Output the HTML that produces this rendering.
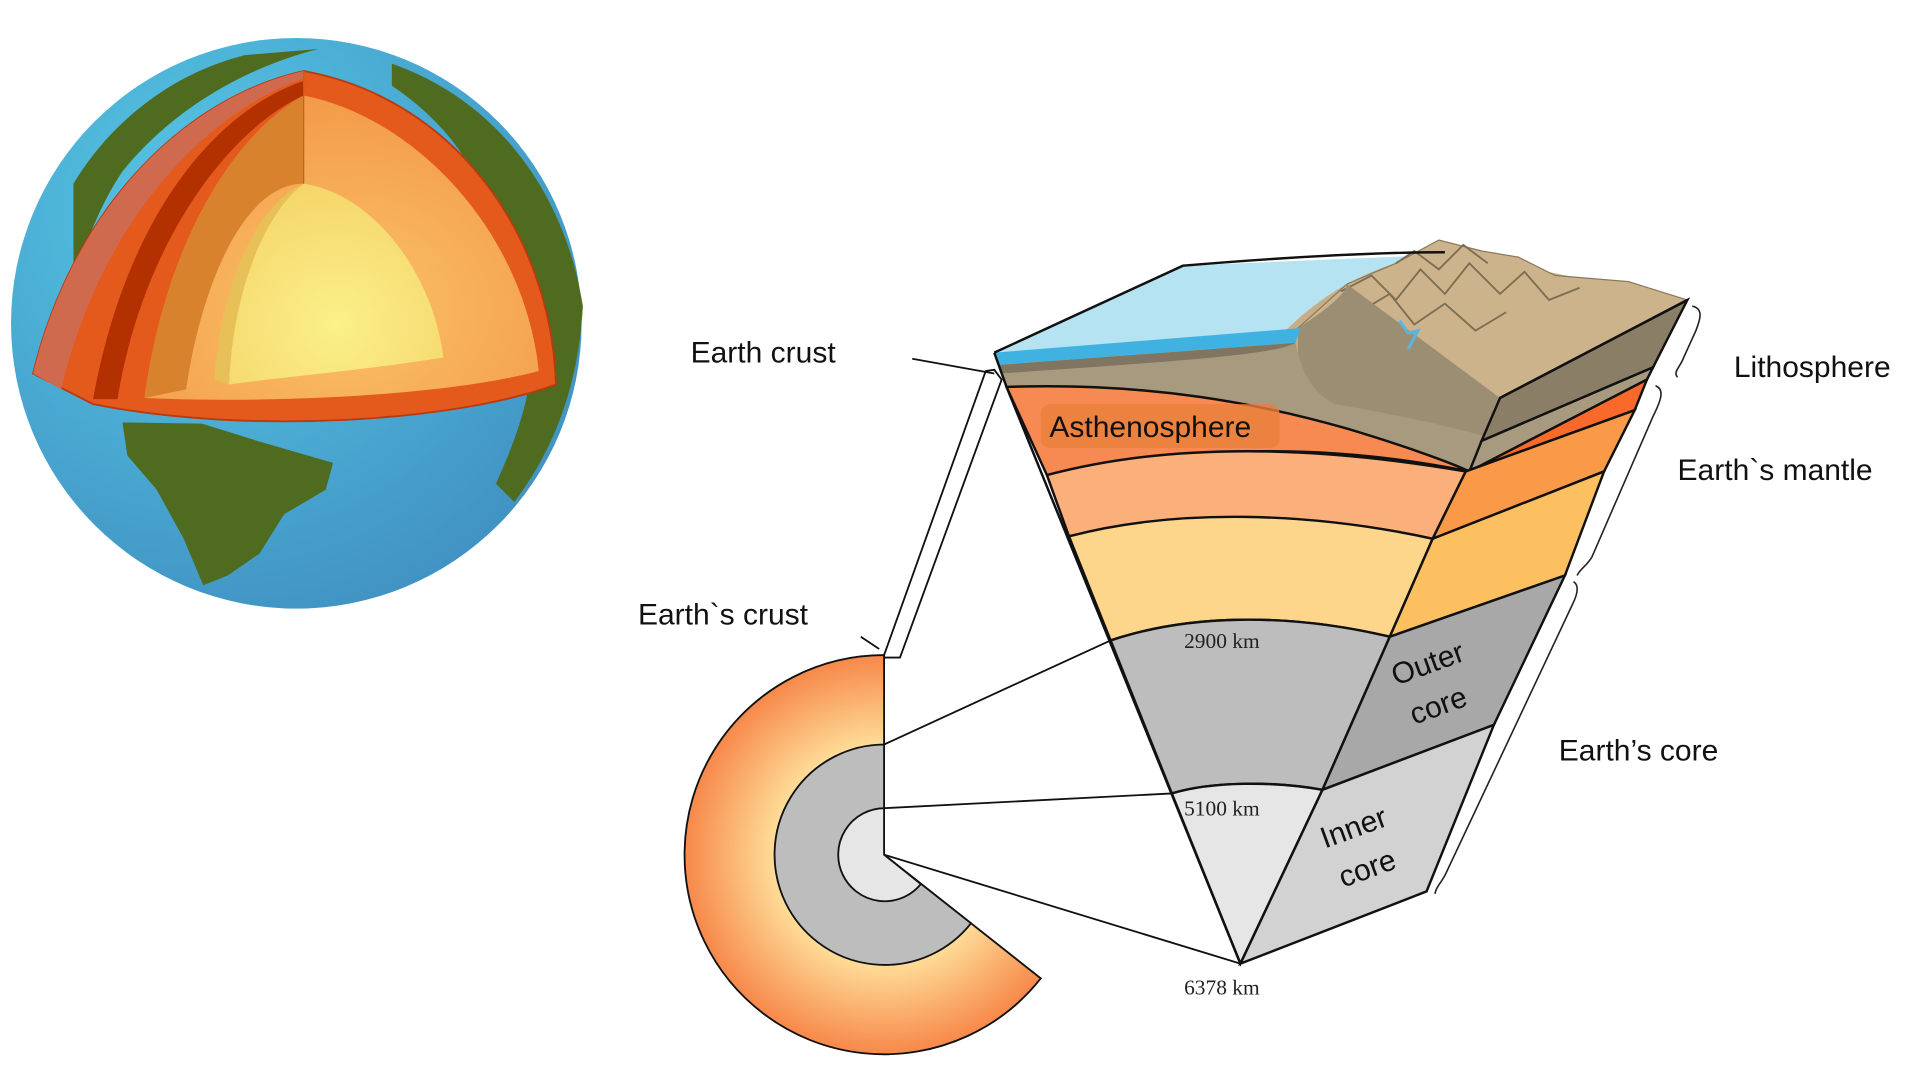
<!DOCTYPE html>
<html><head><meta charset="utf-8"><style>
html,body{margin:0;padding:0;background:#fff;width:1920px;height:1080px;overflow:hidden}
svg{display:block}
.l{font-family:"Liberation Sans","DejaVu Sans",sans-serif;font-size:24.5px;fill:#111}
.s{font-family:"Liberation Serif",serif;font-size:17.5px;fill:#222}
</style></head><body>
<svg width="1920" height="1080" viewBox="0 0 1568 882" xmlns="http://www.w3.org/2000/svg">
<defs>
<radialGradient id="oc" cx="0.35" cy="0.3" r="0.8"><stop offset="0" stop-color="#56c8e6"/><stop offset="1" stop-color="#3f8fc0"/></radialGradient>
<radialGradient id="mg" cx="0.5" cy="0.7" r="0.7"><stop offset="0" stop-color="#fbc36a"/><stop offset="1" stop-color="#f39a48"/></radialGradient>
<radialGradient id="cg" cx="0.5" cy="0.7" r="0.7"><stop offset="0" stop-color="#fbf08a"/><stop offset="1" stop-color="#f5d66a"/></radialGradient>
<radialGradient id="sec" cx="722" cy="698" r="163" gradientUnits="userSpaceOnUse"><stop offset="0.5" stop-color="#ffe6a0"/><stop offset="1" stop-color="#f7884a"/></radialGradient>
</defs>
<circle cx="242" cy="264" r="233" fill="url(#oc)"/>
<path d="M100,345 L165,346 L210,360 L272,378 L266,400 L232,420 L212,452 L186,470 L166,478 L150,440 L128,400 L104,372 Z" fill="#4f6b20"/>
<path d="M320,52 C400,80 460,150 476,250 C472,320 450,370 420,410 L405,395 C430,340 440,300 430,260 C420,230 410,200 395,160 C380,120 350,90 320,70 Z" fill="#4f6b20"/>
<path d="M60,150 C90,100 140,60 200,45 L260,40 C200,55 140,90 100,140 C80,170 70,200 60,230 Z" fill="#4f6b20"/>
<path d="M248,58 C150,80 60,170 27,305 L76,330 C200,355 370,345 454,314 C450,190 370,80 248,58 Z" fill="#e35a1c" stroke="#b83a10" stroke-width="1.5"/>
<path d="M248,58 C150,80 60,170 27,305 L50,318 C80,190 160,95 248,64 Z" fill="#d06a4e"/>
<path d="M248,66 C172,92 102,182 76,326 L96,326 C116,200 186,106 248,78 Z" fill="#b33000"/>
<path d="M248,78 C340,96 428,190 440,303 C370,322 230,330 118,325 C135,200 190,110 248,78 Z" fill="url(#mg)"/>
<path d="M248,78 C190,110 135,200 118,325 L152,318 C165,230 200,150 248,150 Z" fill="#d8822e"/>
<path d="M248,150 C310,160 355,230 362,292 C300,302 230,308 187,314 C190,240 215,175 248,150 Z" fill="url(#cg)"/>
<path d="M248,150 C215,175 190,240 187,314 L175,310 C180,240 205,170 248,150 Z" fill="#e8c058"/>
<line x1="248" y1="58" x2="248" y2="150" stroke="#c06020" stroke-width="1"/>
<path d="M812,288 L966,217 L1180,208 L1378,245 L1225,325 L1205,358 L1000,336 L818,300 Z" fill="#b5e3f2"/>
<path d="M1050,270 C1080,240 1120,215 1180,205 L1378,245 L1225,325 L1205,358 C1150,350 1090,345 1050,330 Z" fill="#c7ae86"/>
<path d="M1060,268 L1100,232 L1140,215 L1175,196 L1210,205 L1240,210 L1270,225 L1330,230 L1378,245 L1225,325 Z" fill="#cdb38c" stroke="#8a7a5c" stroke-width="1"/>
<path d="M1095,238 L1120,225 L1140,245 L1160,220 L1180,240 L1200,215 L1225,240 L1245,222 L1265,245 L1290,235 M1110,255 L1135,240 L1155,265 L1180,248 L1205,270 L1230,255 M1140,215 L1155,205 L1175,220 L1195,200 L1215,215" fill="none" stroke="#7d6d52" stroke-width="1.5"/>
<path d="M1060,268 C1080,255 1100,240 1100,232 L1225,325 L1210,360 C1150,350 1090,345 1060,340 Z" fill="#9c8e72"/>
<path d="M1143,262 L1150,272 L1158,270 L1150,285" fill="none" stroke="#5bb5de" stroke-width="2.5"/>
<path d="M812,288 L1062,268 L1058,280 L816,298 Z" fill="#3fb2e2"/>
<path d="M816,298 L1058,280 C1062,300 1070,320 1090,330 C1150,340 1190,350 1212,356 L1200,385 C1100,360 960,320 822,316 Z" fill="#a79a7e"/>
<path d="M816,298 L1058,280 C1040,290 960,295 818,305 Z" fill="#7f7560"/>
<path d="M822,316 C940,312 1030,330 1100,350 C1150,365 1185,378 1200,385 C1100,365 990,360 855,388 Z" fill="#f78a52" stroke="#111" stroke-width="2"/>
<rect x="850" y="330" width="195" height="36" rx="8" fill="#e8803c" opacity="0.8"/>
<path d="M855,388 C960,360 1080,365 1197,385 L1170,440 C1070,418 960,418 873,438 Z" fill="#fbb07c" stroke="#111" stroke-width="2"/>
<path d="M873,438 C960,415 1070,418 1170,440 L1135,520 C1050,500 970,502 907,523 Z" fill="#fdd68c" stroke="#111" stroke-width="2"/>
<path d="M907,523 C970,502 1050,500 1135,520 L1080,645 C1040,638 990,638 957,648 Z" fill="#bdbdbd" stroke="#111" stroke-width="2"/>
<path d="M957,648 C990,638 1040,638 1080,645 L1013,787 Z" fill="#e6e6e6" stroke="#111" stroke-width="2"/>
<path d="M1225,325 L1378,245 L1350,300 L1210,360 Z" fill="#8a7e66" stroke="#111" stroke-width="2"/>
<path d="M1210,360 L1350,300 L1345,310 L1200,385 Z" fill="#a79a7e" stroke="#111" stroke-width="2"/>
<path d="M1200,385 L1345,310 L1335,335 L1197,385 Z" fill="#f8692a" stroke="#111" stroke-width="2"/>
<path d="M1197,385 L1335,335 L1310,385 L1170,440 Z" fill="#fa9a48" stroke="#111" stroke-width="2"/>
<path d="M1170,440 L1310,385 L1278,470 L1135,520 Z" fill="#fcc060" stroke="#111" stroke-width="2"/>
<path d="M1135,520 L1278,470 L1220,592 L1080,645 Z" fill="#a8a8a8" stroke="#111" stroke-width="2"/>
<path d="M1080,645 L1220,592 L1165,728 L1013,787 Z" fill="#d2d2d2" stroke="#111" stroke-width="2"/>
<path d="M812,288 L966,217 C1050,210 1120,206 1180,206" fill="none" stroke="#111" stroke-width="2"/>
<path d="M812,288 L822,316 L1013,787" fill="none" stroke="#111" stroke-width="2"/>
<path d="M1378,245 L1225,325" fill="none" stroke="#111" stroke-width="2"/>
<path d="M1382,250 C1392,252 1388,262 1385,270 L1375,292 C1372,300 1366,304 1370,308" fill="none" stroke="#222" stroke-width="1.3"/>
<path d="M1352,315 C1360,318 1356,328 1350,340 L1300,455 C1296,462 1290,465 1288,470" fill="none" stroke="#222" stroke-width="1.3"/>
<path d="M1285,475 C1290,478 1288,486 1284,494 L1180,715 C1176,722 1172,726 1172,730" fill="none" stroke="#222" stroke-width="1.3"/>
<path d="M722,535 A163,163 0 1 0 850,799 L722,698 Z" fill="url(#sec)" stroke="#111" stroke-width="1.5"/>
<path d="M722,608 A90,90 0 1 0 793,754 L722,698 Z" fill="#bdbdbd" stroke="#111" stroke-width="1.5"/>
<path d="M722,660 A38,38 0 1 0 752,722 L722,698 Z" fill="#e6e6e6" stroke="#111" stroke-width="1.5"/>
<g stroke="#111" stroke-width="1.5" fill="none">
<line x1="745" y1="293" x2="812" y2="305"/>
<path d="M722,537 L735,537 L818,310 L812,302 L805,303 L722,535"/>
<line x1="703" y1="520" x2="718" y2="530"/>
<line x1="722" y1="608" x2="907" y2="523"/>
<line x1="722" y1="660" x2="957" y2="648"/>
<line x1="722" y1="698" x2="1013" y2="787"/>
</g>
<text class="l" x="564" y="296">Earth crust</text>
<text class="l" x="1416" y="308">Lithosphere</text>
<text class="l" x="1370" y="392">Earth`s mantle</text>
<text class="l" x="1273" y="621">Earth’s core</text>
<text class="l" x="521" y="510">Earth`s crust</text>
<text class="l" x="857" y="357">Asthenosphere</text>
<text class="s" x="967" y="529">2900 km</text>
<text class="s" x="967" y="666">5100 km</text>
<text class="s" x="967" y="812">6378 km</text>
<text class="l" transform="translate(1140,560) rotate(-20)">Outer</text>
<text class="l" transform="translate(1155,592) rotate(-20)">core</text>
<text class="l" transform="translate(1082,693) rotate(-20)">Inner</text>
<text class="l" transform="translate(1097,725) rotate(-20)">core</text>
</svg>
</body></html>
